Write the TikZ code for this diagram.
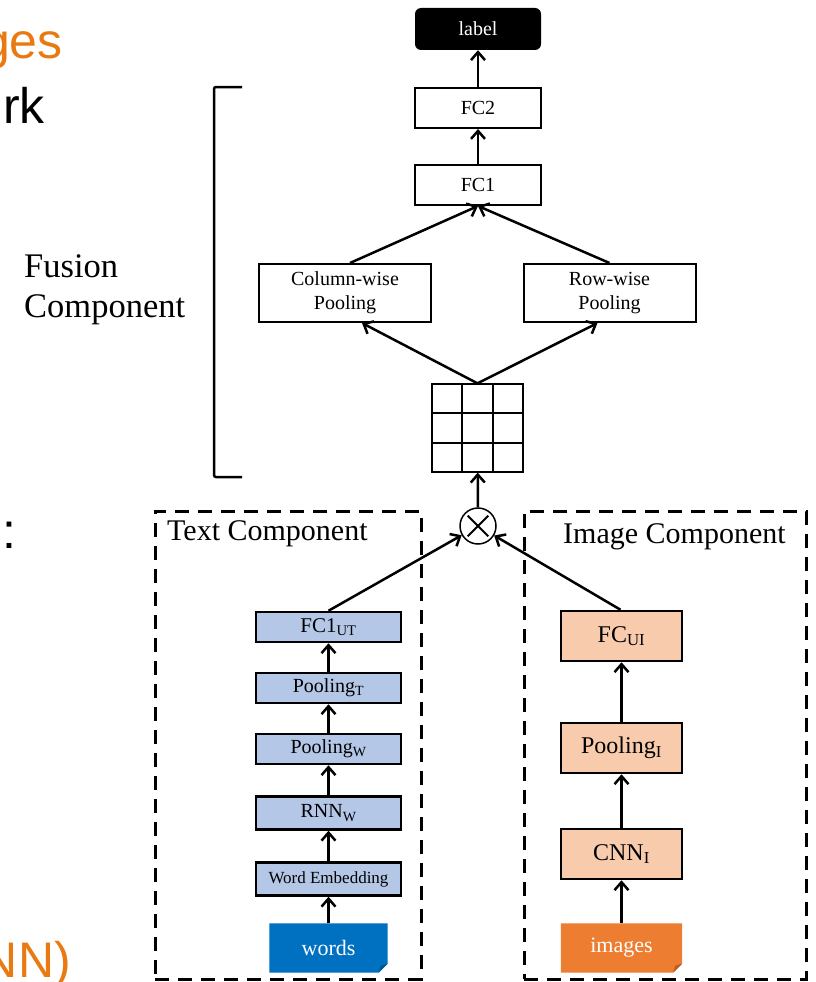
\documentclass[tikz,border=0pt]{standalone}
\usepackage{fontspec}
\setmainfont{Liberation Serif}
\newfontfamily\slidefont{Liberation Sans}
\usetikzlibrary{arrows.meta,calc,backgrounds}

\definecolor{txtfill}{HTML}{B4C7E7}
\definecolor{imgfill}{HTML}{F8CBAD}
\definecolor{wordblue}{HTML}{0070C0}
\definecolor{wordfold}{HTML}{00589A}
\definecolor{imgorange}{HTML}{ED7D31}
\definecolor{imgfold}{HTML}{B85E22}
\definecolor{slideorange}{HTML}{E97A12}

\newcommand{\setfs}[1]{\fontsize{#1}{1.2\dimexpr#1pt\relax}\selectfont}

\begin{document}
\begin{tikzpicture}[x=1pt,y=-1pt,
  fusebox/.style={draw, line width=2pt, minimum width=126pt, minimum height=40pt,
    inner sep=0pt, font=\setfs{20}},
  poolbox/.style={fusebox, minimum width=172pt, minimum height=58pt, align=center},
  labelbox/.style={fill=black, rounded corners=6pt, minimum width=126pt,
    minimum height=42pt, inner sep=0pt, text=white, font=\setfs{20}},
  textbox/.style={draw, fill=txtfill, line width=2.5pt, minimum width=145pt,
    minimum height=30pt, inner sep=0pt, font=\setfs{20}},
  imgbox/.style={draw, fill=imgfill, line width=2.5pt, minimum width=121pt,
    minimum height=50pt, inner sep=0pt, font=\setfs{24}},
  srcbox/.style={minimum height=49pt, inner sep=0pt, text=white, font=\setfs{22}},
  frame/.style={draw, line width=3pt, dash pattern=on 14pt off 9pt},
  arr/.style={line width=2.5pt, -{Straight Barb[length=8pt,width=14pt,line width=2.5pt]}},
  slidetext/.style={font=\slidefont\setfs{50}, inner sep=0pt},
  title/.style={font=\setfs{30}, inner sep=0pt}
]
\useasboundingbox (0,0) rectangle (816,982);

% slide text cut by the page edge
\node[slidetext, text=slideorange, anchor=base east] (sg) at (63,59) {ges};
\node[slidetext, anchor=base east] (sr) at (45,123) {rk};
\node[slidetext, anchor=base west] (sc) at (2,548) {:};
\node[slidetext, text=slideorange, anchor=base east] (sn) at (71,977) {NN)};

% fusion component
\node[labelbox] (label) at (478,29) {label};
\node[fusebox] (fc2) at (478,108) {FC2};
\node[fusebox] (fc1) at (478,185) {FC1};
\node[poolbox] (colpool) at (345,293) {Column-wise\\Pooling};
\node[poolbox] (rowpool) at (609.5,293) {Row-wise\\Pooling};
\node[draw, line width=1.3pt, minimum width=91pt, minimum height=88pt, inner sep=0pt]
  (grid) at (477.5,428) {};
\foreach \k in {1,2} {
  \draw[line width=1.3pt] ($(grid.north west)!\k/3!(grid.north east)$) --
    ($(grid.south west)!\k/3!(grid.south east)$);
  \draw[line width=1.3pt] ($(grid.north west)!\k/3!(grid.south west)$) --
    ($(grid.north east)!\k/3!(grid.south east)$);
}
\node[draw, circle, line width=1.5pt, minimum size=36pt, inner sep=0pt] (ot) at (478,526) {};
\draw[line width=2pt] ($(ot.center)!0.78!(ot.45)$) -- ($(ot.center)!0.78!(ot.225)$);
\draw[line width=2pt] ($(ot.center)!0.78!(ot.135)$) -- ($(ot.center)!0.78!(ot.315)$);

\node[title, font=\setfs{34.5}, anchor=base west] (fusion1) at (24,277) {Fusion};
\node[title, font=\setfs{34.5}, anchor=base west] (fusion2) at (24,317) {Component};
\draw[line width=2.5pt, rounded corners=2pt] (242,87) -- (214,87) -- (214,477) -- (242,477);

% text component
\node[frame, minimum width=266pt, minimum height=468pt] (textframe) at (288,745) {};
\node[title, anchor=base west] (texttitle) at (167,540) {Text Component};
\node[textbox, font=\setfs{21}] (fc1ut) at (328.5,627) {FC1\textsubscript{UT}};
\node[textbox] (poolt) at (328.5,688) {Pooling\textsubscript{T}};
\node[textbox] (poolw) at (328.5,749) {Pooling\textsubscript{W}};
\node[textbox, minimum height=33pt] (rnnw) at (328.5,813) {RNN\textsubscript{W}};
\node[textbox, minimum height=33pt, font=\setfs{17}] (wemb) at (328.5,879) {Word Embedding};
\node[srcbox, minimum width=118pt] (words) at (328.5,948) {words};

% image component
\node[frame, minimum width=282pt, minimum height=468pt] (imageframe) at (665,745) {};
\node[title, anchor=base west] (imagetitle) at (563,543) {Image Component};
\node[imgbox] (fcui) at (621.5,636) {FC\textsubscript{UI}};
\node[imgbox] (pooli) at (621.5,748) {Pooling\textsubscript{I}};
\node[imgbox] (cnni) at (621.5,854) {CNN\textsubscript{I}};
\node[srcbox, minimum width=121pt] (images) at (621.5,948) {images};

% folded-corner input boxes
\begin{scope}[on background layer]
  \fill[wordblue] (words.north west) -- (words.north east) -- ($(words.south east)+(0,-9)$)
    -- ($(words.south east)+(-9,0)$) -- (words.south west) -- cycle;
  \fill[wordfold] ($(words.south east)+(0,-9)$) -- ($(words.south east)+(-9,0)$)
    -- ($(words.south east)+(-7,-7)$) -- cycle;
  \fill[imgorange] (images.north west) -- (images.north east) -- ($(images.south east)+(0,-9)$)
    -- ($(images.south east)+(-9,0)$) -- (images.south west) -- cycle;
  \fill[imgfold] ($(images.south east)+(0,-9)$) -- ($(images.south east)+(-9,0)$)
    -- ($(images.south east)+(-7,-7)$) -- cycle;
\end{scope}

% connectors
\draw[arr] (fc2) -- (label);
\draw[arr] (fc1) -- (fc2);
\draw[arr] ($(colpool.north)+(5,0)$) -- (fc1.south);
\draw[arr] (rowpool.north) -- (fc1.south);
\draw[arr] (grid.north) -- ($(colpool.south)+(17,0)$);
\draw[arr] (grid.north) -- ($(rowpool.south)+(-12,0)$);
\draw[arr] (ot) -- (grid);
\draw[arr] (fc1ut.north) -- (ot);
\draw[arr] ($(fcui.north)+(-1,0)$) -- (ot);
\draw[arr] (poolt) -- (fc1ut);
\draw[arr] (poolw) -- (poolt);
\draw[arr] (rnnw) -- (poolw);
\draw[arr] (wemb) -- (rnnw);
\draw[arr] (words) -- (wemb);
\draw[arr] (pooli) -- (fcui);
\draw[arr] (cnni) -- (pooli);
\draw[arr] (images) -- (cnni);
\end{tikzpicture}
\end{document}
